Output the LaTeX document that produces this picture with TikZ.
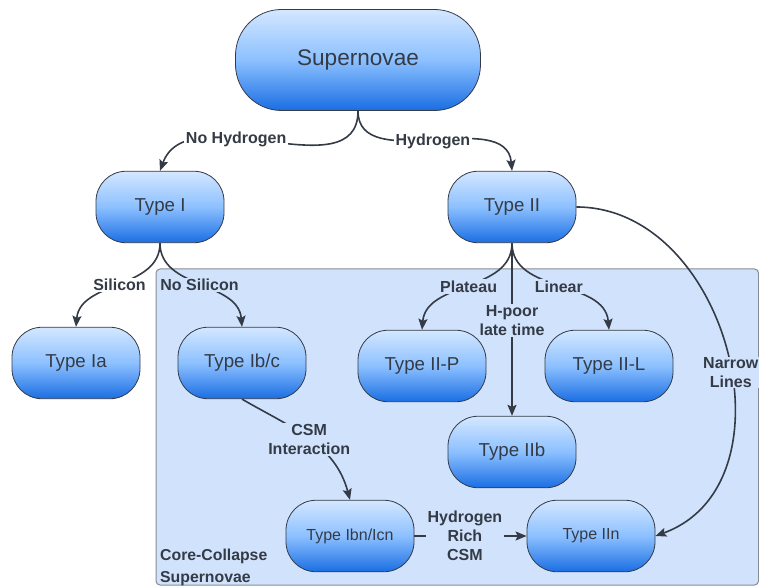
\documentclass[tikz,border=0pt]{standalone}
\usepackage{fontspec}
\setmainfont{Liberation Sans}
\usepackage{xcolor}
\usepackage{tikz}
\usetikzlibrary{arrows.meta}

\definecolor{nodetop}{HTML}{D4E7FF}
\definecolor{nodemid}{HTML}{8CC0FF}
\definecolor{nodebot}{HTML}{1A6EE3}
\definecolor{inktext}{HTML}{343B46}
\definecolor{ccfill}{HTML}{D1E3FC}
\definecolor{ccline}{HTML}{868C96}

\begin{document}
\begin{tikzpicture}[x=1pt, y=1pt,
  sntype/.style={draw=inktext, line width=0.8pt, top color=nodetop, bottom color=nodebot, middle color=nodemid,
    rounded corners=30pt, minimum width=128pt, minimum height=71.5pt, text=inktext,
    font=\fontsize{18.7}{20}\selectfont},
  sntypesm/.style={sntype, font=\fontsize{16}{18}\selectfont},
  lbl/.style={font=\bfseries\fontsize{16}{19}\selectfont, text=inktext, fill=white, inner sep=1.5pt, align=center},
  lblcc/.style={lbl, fill=ccfill},
  link/.style={draw=inktext, line width=1.6pt, -{Stealth[length=11pt, width=9pt, inset=2pt]}}]
  \useasboundingbox (0,0) rectangle (759,586);
  % core-collapse region
  \draw[ccline, fill=ccfill, line width=1pt, rounded corners=4pt] (156,317) rectangle (758.5,1);
  \node[anchor=north west, align=left, text=inktext, font=\bfseries\fontsize{15.8}{22}\selectfont, inner sep=0pt] (cclabel) at (160,37) {Core-Collapse\\Supernovae};
  % nodes
  \node[sntype, minimum width=245pt, minimum height=101pt, rounded corners=46pt, font=\fontsize{22.6}{24}\selectfont] (sn) at (358,526) {Supernovae};
  \node[sntype] (t1) at (160,379) {Type I};
  \node[sntype] (t2) at (512,379) {Type II};
  \node[sntype] (t1a) at (76,223) {Type Ia};
  \node[sntype] (t1bc) at (242,223) {Type Ib/c};
  \node[sntype] (t2p) at (422,220) {Type II-P};
  \node[sntype] (t2l) at (609,220) {Type II-L};
  \node[sntype] (t2b) at (512,134) {Type IIb};
  \node[sntypesm] (t1bn) at (350,50) {Type Ibn/Icn};
  \node[sntypesm] (t2n) at (591,50) {Type IIn};
  % connectors
  \draw[link] (sn.south) to[out=-90, in=70] node[lbl, pos=0.62] {No Hydrogen} (t1.north);
  \draw[link] (sn.south) to[out=-90, in=95] node[lbl, pos=0.5] {Hydrogen} (t2.north);
  \draw[link] (t1.south) to[out=-90, in=85] node[lbl, pos=0.5] {Silicon} (t1a.north);
  \draw[link] (t1.south) to[out=-90, in=95] node[lblcc, pos=0.5] {No Silicon} (t1bc.north);
  \draw[link] (t2.south) to[out=-90, in=85] node[lblcc, pos=0.5] {Plateau} (t2p.north);
  \draw[link] (t2.south) to[out=-90, in=95] node[lblcc, pos=0.5] {Linear} (t2l.north);
  \draw[link] (t2.south) -- node[lblcc, pos=0.45] {H-poor\\late time} (t2b.north);
  \draw[link] (t2.east) to[out=0, in=20, looseness=1.15] node[lblcc, pos=0.545, inner sep=0.5pt] {Narrow\\Lines} (t2n.east);
  \draw[link] (t1bc.south) to[out=-30, in=105] node[lblcc, pos=0.5] {CSM\\Interaction} (t1bn.north);
  \draw[link] (t1bn.east) -- node[lblcc, pos=0.45] {Hydrogen\\Rich\\CSM} (t2n.west);
\end{tikzpicture}
\end{document}
